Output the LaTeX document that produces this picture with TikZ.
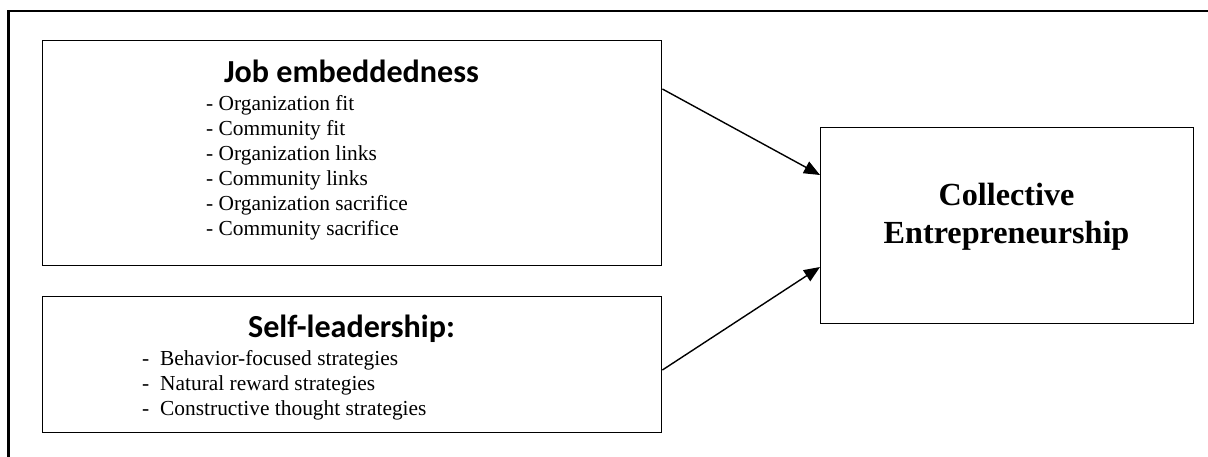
\documentclass[tikz,border=0pt]{standalone}
\usepackage{fontspec}
\setmainfont{Liberation Serif}
\newfontfamily\headfont{Carlito}
\usetikzlibrary{arrows.meta,calc}

\tikzset{
  box/.style={draw, line width=1.4pt, rectangle, inner sep=0pt, anchor=north west},
  frame/.style={line width=2.4pt},
  heading/.style={anchor=base, inner sep=0pt, font=\headfont\bfseries\fontsize{32.1}{38}\selectfont},
  item/.style={anchor=base west, inner sep=0pt, font=\fontsize{21.4}{25}\selectfont},
  outcome/.style={anchor=base, inner sep=0pt, font=\bfseries\fontsize{32.2}{38}\selectfont},
  link/.style={line width=1.4pt, -{Triangle[length=16pt, width=13pt]}}
}

\begin{document}
\begin{tikzpicture}[x=1pt, y=-1pt]
  \useasboundingbox (0,0) rectangle (1208,456);

  % surrounding frame (only its top and left edges lie on the page)
  \draw[frame] (8.3,470) -- (8.3,11.2) -- (1220,11.2);

  % the three boxes
  \node[box, minimum width=619pt, minimum height=225pt] (job) at (42,40) {};
  \node[box, minimum width=619pt, minimum height=136pt] (self) at (42,296) {};
  \node[box, minimum width=373pt, minimum height=196pt] (ce) at (820,127) {};

  % job embeddedness
  \node[heading] (jobhead) at (351.5,82) {Job embeddedness};
  \node[item] (j1) at (206,110) {- Organization fit};
  \node[item] (j2) at (206,135) {- Community fit};
  \node[item] (j3) at (206,160) {- Organization links};
  \node[item] (j4) at (206,185) {- Community links};
  \node[item] (j5) at (206,210) {- Organization sacrifice};
  \node[item] (j6) at (206,235) {- Community sacrifice};

  % self-leadership
  \node[heading] (selfhead) at (351.5,337) {Self-leadership:};
  \node[item] (s1) at (142,365) {\makebox[18pt][l]{-}Behavior-focused strategies};
  \node[item] (s2) at (142,390) {\makebox[18pt][l]{-}Natural reward strategies};
  \node[item] (s3) at (142,415) {\makebox[18pt][l]{-}Constructive thought strategies};

  % outcome
  \node[outcome] (ce1) at (1006.5,205) {Collective};
  \node[outcome] (ce2) at (1006.5,243) {Entrepreneurship};

  % paths
  \draw[link] ($(job.north east)+(0,49)$) -- ($(ce.north west)+(0,48)$);
  \draw[link] ($(self.north east)+(0,74)$) -- ($(ce.north west)+(0,140)$);
\end{tikzpicture}
\end{document}
